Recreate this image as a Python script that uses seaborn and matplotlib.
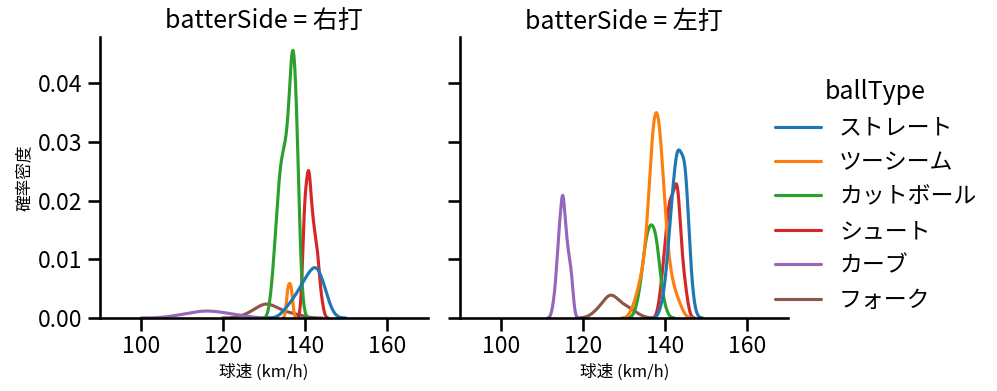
import numpy as np
import pandas as pd
import matplotlib.pyplot as plt
import seaborn as sns

ball_types = ["ストレート", "ツーシーム", "カットボール", "シュート", "カーブ", "フォーク"]
sides = ["右打", "左打"]

# --- 右打 : speed (km/h) and number of pitches at that speed ---
r_straight_kmh = [135, 136, 137, 138, 139, 140, 141, 142, 143, 144, 145, 146]
r_straight_n = [1, 1, 2, 2, 3, 4, 4, 5, 6, 4, 3, 1]
r_twoseam_kmh = [135.7, 136.0, 136.3, 136.6, 136.9]
r_twoseam_n = [1, 1, 1, 1, 1]
r_cutter_kmh = [132, 133, 134, 135, 136, 137, 138, 139]
r_cutter_n = [3, 9, 15, 16, 18, 29, 22, 3]
r_shoot_kmh = [140, 141, 142, 143, 144]
r_shoot_n = [12, 15, 9, 7, 2]
r_curve_kmh = [109, 112, 114, 115, 116, 118, 119, 121, 124]
r_curve_n = [1, 1, 1, 1, 1, 1, 1, 1, 1]
r_fork_kmh = [126, 128, 129, 130, 131, 132, 133, 134, 136, 138]
r_fork_n = [1, 1, 1, 2, 2, 1, 1, 1, 1, 1]

# --- 左打 ---
l_straight_kmh = [139, 140, 141, 142, 143, 144, 145, 146, 147]
l_straight_n = [1, 3, 8, 13, 17, 15, 16, 6, 1]
l_twoseam_kmh = [132, 133, 134, 135, 136, 137, 138, 139, 140, 141, 142, 143, 144]
l_twoseam_n = [1, 2, 4, 5, 11, 20, 21, 18, 9, 5, 3, 2, 1]
l_cutter_kmh = [133, 134, 135, 136, 137, 138, 139, 140]
l_cutter_n = [1, 3, 7, 9, 9, 8, 3, 1]
l_shoot_kmh = [139, 140, 141, 142, 143, 144, 145]
l_shoot_n = [3, 7, 12, 11, 15, 6, 3]
l_curve_kmh = [113, 114, 115, 116, 117]
l_curve_n = [2, 8, 13, 7, 5]
l_fork_kmh = [123, 124, 125, 126, 127, 128, 129, 130, 131, 133]
l_fork_n = [1, 1, 1, 3, 3, 2, 1, 1, 2, 1]

groups = [
    ("右打", "ストレート", r_straight_kmh, r_straight_n),
    ("右打", "ツーシーム", r_twoseam_kmh, r_twoseam_n),
    ("右打", "カットボール", r_cutter_kmh, r_cutter_n),
    ("右打", "シュート", r_shoot_kmh, r_shoot_n),
    ("右打", "カーブ", r_curve_kmh, r_curve_n),
    ("右打", "フォーク", r_fork_kmh, r_fork_n),
    ("左打", "ストレート", l_straight_kmh, l_straight_n),
    ("左打", "ツーシーム", l_twoseam_kmh, l_twoseam_n),
    ("左打", "カットボール", l_cutter_kmh, l_cutter_n),
    ("左打", "シュート", l_shoot_kmh, l_shoot_n),
    ("左打", "カーブ", l_curve_kmh, l_curve_n),
    ("左打", "フォーク", l_fork_kmh, l_fork_n),
]

rows = []
for side, bt, kmh, n in groups:
    for v, c in zip(kmh, n):
        rows += [(side, bt, v)] * c
df = pd.DataFrame(rows, columns=["batterSide", "ballType", "球速"])

sns.set_theme(context="talk", style="ticks", palette="tab10",
              rc={"text.color": "black", "axes.labelcolor": "black",
                  "xtick.color": "black", "ytick.color": "black",
                  "axes.edgecolor": "black"})
plt.rcParams["font.family"] = ["Noto Sans CJK JP", "DejaVu Sans"]

g = sns.displot(data=df, x="球速", hue="ballType", col="batterSide", kind="kde",
                hue_order=ball_types, col_order=sides, height=4, aspect=1)
g.set(xlim=(90, 170))
g.set_axis_labels("球速 (km/h)", "確率密度", fontsize=12)

fig = g.figure
fig.set_size_inches(9.97, 3.91)
fig.subplots_adjust(left=0.1003, right=0.7904, bottom=0.1867, top=0.9054, wspace=0.1)
fig.savefig("out.png", dpi=100)
